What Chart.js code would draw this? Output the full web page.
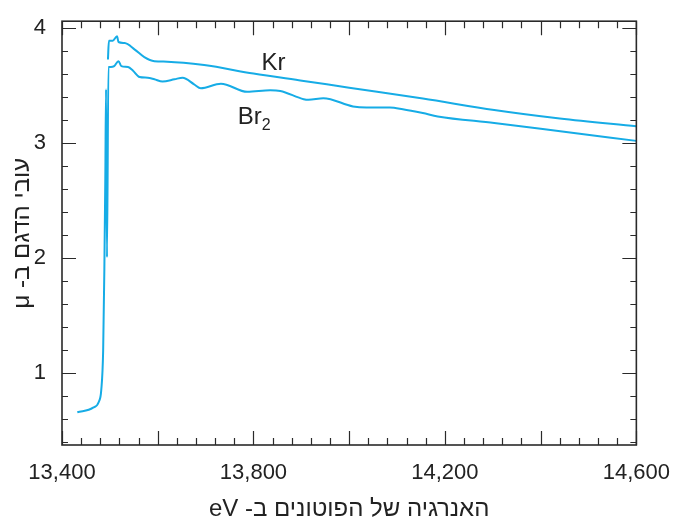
<!DOCTYPE html>
<html>
<head>
<meta charset="utf-8">
<script src="https://cdn.jsdelivr.net/npm/chart.js@4"></script>
<style>
html,body{margin:0;padding:0;background:#fff;}
#wrap{width:677px;height:521px;position:relative;}
</style>
</head>
<body>
<div id="wrap"><canvas id="c" width="677" height="521"></canvas></div>
<script>
// ---- data ----
const krEnergy = [13496, 13498, 13506, 13515, 13518, 13531, 13552, 13572, 13593, 13620, 13697, 13800, 13905, 14000, 14154, 14303, 14440, 14600];
const krMu     = [3.726, 3.890, 3.890, 3.928, 3.879, 3.870, 3.813, 3.747, 3.712, 3.708, 3.678, 3.604, 3.540, 3.481, 3.387, 3.286, 3.212, 3.145];

const brEnergy = [13432, 13465, 13477, 13482, 13486, 13488.5, 13490.5, 13492, 13494, 13497, 13502, 13509, 13518, 13524, 13538, 13548, 13562, 13579, 13593, 13610, 13635, 13652, 13676, 13690, 13732, 13787, 13835, 13856, 13905, 13915, 13946, 14008, 14036, 14085, 14112, 14154, 14185, 14303, 14441, 14600];
const brMu     = [0.655, 0.695, 0.747, 0.848, 1.194, 1.90, 2.70, 3.467, 2.005, 3.661, 3.661, 3.669, 3.712, 3.669, 3.661, 3.631, 3.574, 3.568, 3.554, 3.534, 3.554, 3.568, 3.510, 3.476, 3.516, 3.445, 3.459, 3.453, 3.381, 3.376, 3.389, 3.318, 3.309, 3.309, 3.294, 3.260, 3.231, 3.174, 3.102, 3.018];

const xTickValues = [13400, 13800, 14200, 14600];
const yTickValues = [1, 2, 3, 4];

const seriesLabels = [
  {text: 'Kr', sub: '',  x: 13817, y: 3.637},
  {text: 'Br', sub: '2', x: 13767, y: 3.162}
];

const xTitle = 'האנרגיה של הפוטונים ב- eV';
const yTitle = 'עובי הדגם ב- μ';

// ---- rendering ----
const FONT = "'Liberation Sans', Arial, sans-serif";
const LINE = '#16ACE6';
const FRAME = '#2a2a2a';

const rtl = s => '\u202B' + s + '\u202C';

const framePlugin = {
  id: 'frameTicks',
  afterDatasetsDraw(chart) {
    const {ctx, chartArea: a, scales: {x, y}} = chart;
    ctx.save();
    ctx.strokeStyle = FRAME;
    ctx.lineWidth = 1.6;
    ctx.strokeRect(a.left, a.top, a.right - a.left, a.bottom - a.top);
    ctx.lineWidth = 1.2;
    ctx.beginPath();
    // x ticks every 40 eV, long every 200 eV
    for (let v = 13400; v <= 14600 + 0.1; v += 40) {
      const px = Math.round(x.getPixelForValue(v)) + 0.5;
      const len = (Math.round(v) % 200 === 0) ? 14 : 7;
      ctx.moveTo(px, a.bottom); ctx.lineTo(px, a.bottom - len);
      ctx.moveTo(px, a.top); ctx.lineTo(px, a.top + len);
    }
    // y ticks every 0.2, long at integers
    for (let i = 2; i <= 20; i++) {
      const v = i / 5;
      const py = Math.round(y.getPixelForValue(v)) + 0.5;
      const len = (i % 5 === 0) ? 14 : 6;
      ctx.moveTo(a.left, py); ctx.lineTo(a.left + len, py);
      ctx.moveTo(a.right, py); ctx.lineTo(a.right - len, py);
    }
    ctx.stroke();

    // series labels
    ctx.fillStyle = '#222';
    ctx.textBaseline = 'alphabetic';
    ctx.textAlign = 'left';
    seriesLabels.forEach(l => {
      const px = x.getPixelForValue(l.x);
      const py = y.getPixelForValue(l.y);
      ctx.font = '24px ' + FONT;
      ctx.fillText(l.text, px, py);
      if (l.sub) {
        const w = ctx.measureText(l.text).width;
        ctx.font = '16px ' + FONT;
        ctx.fillText(l.sub, px + w, py + 6);
      }
    });
    ctx.restore();
  }
};

const toPts = (xs, ys) => xs.map((v, i) => ({x: v, y: ys[i]}));

new Chart(document.getElementById('c'), {
  type: 'line',
  data: {
    datasets: [
      {label: 'Kr', data: toPts(krEnergy, krMu), borderColor: LINE, borderWidth: 2, pointRadius: 0, cubicInterpolationMode: 'monotone', fill: false},
      {label: 'Br2', data: toPts(brEnergy, brMu), borderColor: LINE, borderWidth: 2, pointRadius: 0, cubicInterpolationMode: 'monotone', fill: false}
    ]
  },
  options: {
    responsive: false,
    animation: false,
    layout: {padding: {left: 0, right: 37, top: 18, bottom: 0}},
    plugins: {legend: {display: false}, tooltip: {enabled: false}},
    scales: {
      x: {
        type: 'linear', min: 13400, max: 14600,
        grid: {display: false}, border: {display: false},
        afterBuildTicks: s => { s.ticks = xTickValues.map(v => ({value: v})); },
        afterFit: s => { s.height = 76; },
        ticks: {
          color: '#222', font: {family: FONT, size: 22}, padding: 7, maxRotation: 0,
          callback: v => v.toLocaleString('en-US')
        },
        title: {display: true, text: rtl(xTitle), color: '#222', font: {family: FONT, size: 24, lineHeight: 1.0}, padding: {top: 0, bottom: 0}}
      },
      y: {
        type: 'linear', min: 0.37, max: 4.06,
        grid: {display: false}, border: {display: false},
        afterBuildTicks: s => { s.ticks = yTickValues.map(v => ({value: v})); },
        afterFit: s => { s.width = 62; },
        ticks: {color: '#222', font: {family: FONT, size: 22}, padding: 8, callback: v => String(v)},
        title: {display: true, text: rtl(yTitle), color: '#222', font: {family: FONT, size: 24, lineHeight: 1.2}, padding: {top: 8, bottom: 0}}
      }
    }
  },
  plugins: [framePlugin]
});
</script>
</body>
</html>
